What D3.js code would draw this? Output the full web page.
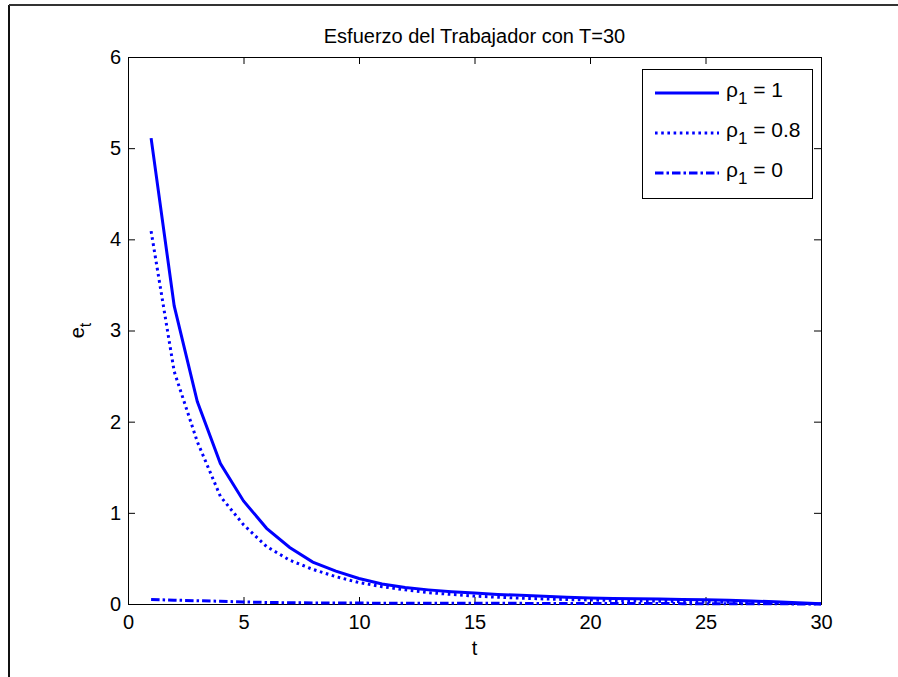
<!DOCTYPE html>
<html>
<head>
<meta charset="utf-8">
<script src="https://cdn.jsdelivr.net/npm/d3@7"></script>
<style>
  html, body { margin: 0; padding: 0; background: #fff; }
  svg { display: block; }
  text { font-family: "Liberation Sans", Arial, sans-serif; fill: #000; }
</style>
</head>
<body>
<svg id="chart" width="898" height="677"></svg>
<script>
// Periods t = 1..30
const periods = d3.range(1, 31);

// Effort e_t for each persistence value rho_1
const effortRho1 = [5.11, 3.27, 2.22, 1.54, 1.13, 0.83, 0.62, 0.46, 0.36, 0.28,
                    0.22, 0.18, 0.155, 0.135, 0.12, 0.105, 0.095, 0.085, 0.075, 0.065,
                    0.06, 0.057, 0.054, 0.05, 0.047, 0.04, 0.033, 0.025, 0.015, 0.003];
const effortRho08 = [4.09, 2.55, 1.78, 1.18, 0.87, 0.63, 0.48, 0.38, 0.30, 0.235,
                     0.19, 0.155, 0.125, 0.105, 0.087, 0.074, 0.064, 0.056, 0.049, 0.044,
                     0.039, 0.035, 0.031, 0.027, 0.023, 0.019, 0.015, 0.011, 0.006, 0.002];
const effortRho0 = [0.05, 0.042, 0.036, 0.03, 0.022, 0.017, 0.014, 0.012, 0.011, 0.01,
                    0.009, 0.009, 0.008, 0.008, 0.007, 0.007, 0.007, 0.006, 0.006, 0.006,
                    0.005, 0.005, 0.005, 0.004, 0.004, 0.004, 0.003, 0.002, 0.001, 0.0];

const xTicks = [0, 5, 10, 15, 20, 25, 30];
const yTicks = [0, 1, 2, 3, 4, 5, 6];

const seriesNames = ["\u03c1|1| = 1", "\u03c1|1| = 0.8", "\u03c1|1| = 0"];
const seriesData = [effortRho1, effortRho08, effortRho0];
const seriesDash = [null, "2.6,3.6", "8.5,3,2.5,3"];

const titleText = "Esfuerzo del Trabajador con T=30";

const svg = d3.select("#chart");

// Figure frame
svg.append("line").attr("x1", 9).attr("x2", 9).attr("y1", 5).attr("y2", 677)
  .attr("stroke", "#111").attr("stroke-width", 2);
svg.append("line").attr("x1", 9).attr("x2", 898).attr("y1", 5).attr("y2", 5)
  .attr("stroke", "#333").attr("stroke-width", 2);

const plot = { left: 128, right: 821, top: 57, bottom: 604 };

const x = d3.scaleLinear().domain([0, 30]).range([plot.left, plot.right]);
const y = d3.scaleLinear().domain([0, 6]).range([plot.bottom, plot.top]);

// Axes box with inward ticks on all four sides
const tickLen = 7;
const axisBottom = d3.axisBottom(x).tickValues(xTicks).tickSize(-tickLen).tickPadding(11).tickFormat(d3.format("d"));
const axisTop = d3.axisTop(x).tickValues(xTicks).tickSize(-tickLen).tickFormat("");
const axisLeft = d3.axisLeft(y).tickValues(yTicks).tickSize(-tickLen).tickPadding(7).tickFormat(d3.format("d"));
const axisRight = d3.axisRight(y).tickValues(yTicks).tickSize(-tickLen).tickFormat("");

function styleAxis(g) {
  g.select(".domain").attr("stroke", "#000").attr("stroke-width", 1);
  g.selectAll(".tick line").attr("stroke", "#000").attr("stroke-width", 1);
  g.selectAll(".tick text").attr("font-size", 20).attr("font-family", "Liberation Sans, Arial, sans-serif");
}

svg.append("g").attr("transform", `translate(0,${plot.bottom})`).call(axisBottom).call(styleAxis);
svg.append("g").attr("transform", `translate(0,${plot.top})`).call(axisTop).call(styleAxis);
svg.append("g").attr("transform", `translate(${plot.left},0)`).call(axisLeft).call(styleAxis);
svg.append("g").attr("transform", `translate(${plot.right},0)`).call(axisRight).call(styleAxis);

// Curves
const line = d3.line().x((d, i) => x(periods[i])).y(d => y(d));
seriesData.forEach((vals, k) => {
  svg.append("path")
    .datum(vals)
    .attr("d", line)
    .attr("fill", "none")
    .attr("stroke", "#0000ff")
    .attr("stroke-width", 3)
    .attr("stroke-dasharray", seriesDash[k]);
});

// Title
svg.append("text")
  .attr("x", (plot.left + plot.right) / 2)
  .attr("y", 43)
  .attr("text-anchor", "middle")
  .attr("font-size", 20)
  .text(titleText);

// Axis labels
svg.append("text")
  .attr("x", (plot.left + plot.right) / 2)
  .attr("y", 655)
  .attr("text-anchor", "middle")
  .attr("font-size", 20)
  .text("t");

const yl = svg.append("text")
  .attr("transform", `translate(84,${(plot.top + plot.bottom) / 2}) rotate(-90)`)
  .attr("text-anchor", "middle")
  .attr("font-size", 20);
yl.append("tspan").text("e");
yl.append("tspan").attr("dy", 7).attr("font-size", 16).text("t");

// Legend
const legend = svg.append("g");
legend.append("rect")
  .attr("x", 642.5).attr("y", 69.5).attr("width", 170).attr("height", 129)
  .attr("fill", "#fff").attr("stroke", "#000").attr("stroke-width", 1);

const rowY = [93, 133, 173];
seriesNames.forEach((name, k) => {
  legend.append("line")
    .attr("x1", 655).attr("x2", 719)
    .attr("y1", rowY[k]).attr("y2", rowY[k])
    .attr("stroke", "#0000ff").attr("stroke-width", 3)
    .attr("stroke-dasharray", seriesDash[k]);
  const parts = name.split("|");
  const t = legend.append("text")
    .attr("x", 726).attr("y", rowY[k] + 4)
    .attr("font-size", 21);
  t.append("tspan").text(parts[0]);
  t.append("tspan").attr("dy", 7).attr("font-size", 17).text(parts[1]);
  t.append("tspan").attr("dy", -7).text(parts[2].replace(/ /g, "\u00a0"));
});
</script>
</body>
</html>
